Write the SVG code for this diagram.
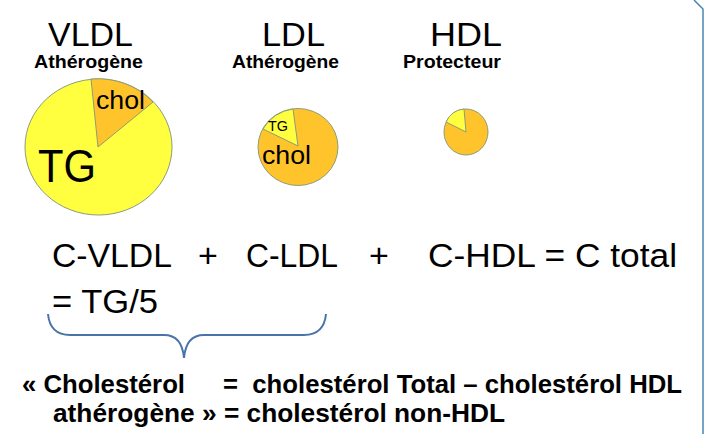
<svg xmlns="http://www.w3.org/2000/svg" width="705" height="434" viewBox="0 0 705 434">
<style>
text{font-family:"Liberation Sans",Arial,sans-serif;fill:#000}
.title{font-size:33px}
.sub{font-size:18px;font-weight:bold}
.eq{font-size:34px}
.bot{font-size:25px;font-weight:bold}
.yel{fill:#ffff40;stroke:#8c9c78;stroke-width:1}
.ora{fill:#ffc42c;stroke:#8c9c78;stroke-width:1}
</style>
<rect width="705" height="434" fill="#ffffff"/>
<path d="M694,0 L703,9 L703,434" fill="none" stroke="#4a86b0" stroke-width="1.5"/>

<g id="vldl">
<text class="title" x="48" y="46" textLength="85" lengthAdjust="spacingAndGlyphs">VLDL</text>
<text class="sub" x="34" y="68" textLength="109" lengthAdjust="spacingAndGlyphs">Athérogène</text>
<ellipse class="yel" cx="98.5" cy="147" rx="73.5" ry="68"/>
<path class="ora" d="M98,147 L91,79 A73.5,68 0 0,1 153,102 Z"/>
<text x="96" y="109" font-size="26" textLength="49" lengthAdjust="spacingAndGlyphs">chol</text>
<text x="38" y="182" font-size="47" textLength="58" lengthAdjust="spacingAndGlyphs">TG</text>
</g>

<g id="ldl">
<text class="title" x="262" y="46" textLength="63" lengthAdjust="spacingAndGlyphs">LDL</text>
<text class="sub" x="232" y="68" textLength="107" lengthAdjust="spacingAndGlyphs">Athérogène</text>
<ellipse class="ora" cx="298" cy="147" rx="40" ry="38.5"/>
<path class="yel" d="M298,146 L293,109 A40,38.5 0 0,0 263,129 Z"/>
<text x="268" y="131" font-size="14" textLength="20" lengthAdjust="spacingAndGlyphs">TG</text>
<text x="262" y="164" font-size="26" textLength="49" lengthAdjust="spacingAndGlyphs">chol</text>
</g>

<g id="hdl">
<text class="title" x="430" y="46" textLength="72" lengthAdjust="spacingAndGlyphs">HDL</text>
<text class="sub" x="403" y="68" textLength="98" lengthAdjust="spacingAndGlyphs">Protecteur</text>
<ellipse class="ora" cx="466" cy="132" rx="22" ry="23"/>
<path class="yel" d="M466,132 L464,109 A22,23 0 0,0 446,122 Z"/>
</g>

<g id="equation">
<text class="eq" x="52" y="267" textLength="120" lengthAdjust="spacingAndGlyphs">C-VLDL</text>
<text class="eq" x="208" y="267" text-anchor="middle">+</text>
<text class="eq" x="246" y="267" textLength="92" lengthAdjust="spacingAndGlyphs">C-LDL</text>
<text class="eq" x="379" y="267" text-anchor="middle">+</text>
<text class="eq" x="428" y="267" textLength="249" lengthAdjust="spacingAndGlyphs">C-HDL = C total</text>
<text class="eq" x="52" y="313" textLength="106" lengthAdjust="spacingAndGlyphs">= TG/5</text>
</g>

<g id="connectors">
<path d="M48,314 Q50,335 70,335 L164,335 Q182,335 184,358 Q186,335 204,335 L304,335 Q324,335 326,314" fill="none" stroke="#4a74a8" stroke-width="2"/>
</g>

<g id="definition">
<text class="bot" x="22" y="393" textLength="163" lengthAdjust="spacingAndGlyphs">« Cholestérol</text>
<text class="bot" x="223" y="393" textLength="459" lengthAdjust="spacingAndGlyphs" xml:space="preserve">=  cholestérol Total – cholestérol HDL</text>
<text class="bot" x="53" y="422" textLength="452" lengthAdjust="spacingAndGlyphs">athérogène » = cholestérol non-HDL</text>
</g>
</svg>
